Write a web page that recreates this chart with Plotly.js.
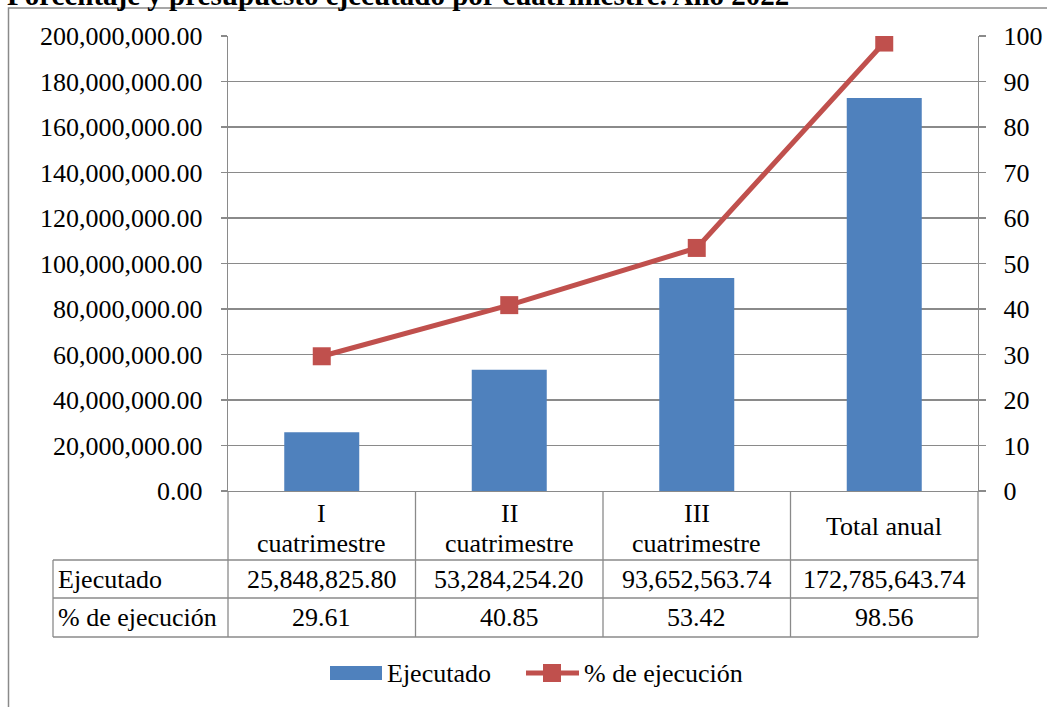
<!DOCTYPE html>
<html>
<head>
<meta charset="utf-8">
<script src="https://cdn.plot.ly/plotly-3.0.1.min.js"></script>
<style>html,body{margin:0;padding:0;background:#fff;}#chart{width:1047px;height:707px;}</style>
</head>
<body>
<div id="chart"></div>
<script>
const categories = ["I cuatrimestre", "II cuatrimestre", "III cuatrimestre", "Total anual"];
const headerLine1 = ["I", "II", "III", ""];
const headerLine2 = ["cuatrimestre", "cuatrimestre", "cuatrimestre", ""];
const headerSingle = ["", "", "", "Total anual"];
const ejecutado = [25848825.80, 53284254.20, 93652563.74, 172785643.74];
const ejecutadoText = ["25,848,825.80", "53,284,254.20", "93,652,563.74", "172,785,643.74"];
const porcentaje = [29.61, 40.85, 53.42, 98.56];
const porcentajeText = ["29.61", "40.85", "53.42", "98.56"];
const rowLabels = ["Ejecutado", "% de ejecución"];
const seriesNames = ["Ejecutado", "% de ejecución"];
const titleText = "Porcentaje y presupuesto ejecutado por cuatrimestre. Año 2022";

const W = 1047, H = 707;
const L = 228, R = 978, T = 36, B = 491;
const xp = px => (px - L) / (R - L);
const yp = py => (B - py) / (B - T);
const FONT = "'Liberation Serif', 'Times New Roman', serif";
const GRAY = "#8a8a8a";
const BLUE = "#4F81BD";
const RED = "#C0504D";

const traces = [
  {type: "bar", x: categories, y: ejecutado, name: seriesNames[0], marker: {color: BLUE}, width: 0.4, yaxis: "y", hoverinfo: "none"},
  {type: "scatter", mode: "lines+markers", x: categories, y: porcentaje, name: seriesNames[1], yaxis: "y2",
   line: {color: RED, width: 5}, marker: {symbol: "square", size: 18, color: RED}, hoverinfo: "none"}
];

const shapes = [];
const annotations = [];
const line = (x0, y0, x1, y1, color, w) => shapes.push({type: "line", xref: "paper", yref: "paper",
  x0: xp(x0), y0: yp(y0), x1: xp(x1), y1: yp(y1), line: {color: color || GRAY, width: w || 1.3}});

// outer border
shapes.push({type: "rect", xref: "paper", yref: "paper", x0: xp(8.5), y0: yp(8), x1: xp(1080), y1: yp(740),
  line: {color: GRAY, width: 1.5}, fillcolor: "rgba(0,0,0,0)"});

// table grid
const colEdges = [228, 415.5, 603, 790.5, 978];
colEdges.forEach(x => line(x, B, x, 637));
line(53, 560, 978, 560);
line(53, 598, 978, 598);
line(53, 637, 978, 637);
line(53, 560, 53, 637);

const txt = (x, xref, py, text, anchor, size) => annotations.push({
  x: x, xref: xref, y: yp(py), yref: "paper", text: text, showarrow: false,
  xanchor: anchor || "center", yanchor: "middle", font: {family: FONT, size: size || 26, color: "#000"}
});

categories.forEach((c, i) => {
  if (headerLine1[i]) txt(c, "x", 513, headerLine1[i]);
  if (headerLine2[i]) txt(c, "x", 543, headerLine2[i]);
  if (headerSingle[i]) txt(c, "x", 526, headerSingle[i]);
  txt(c, "x", 579, ejecutadoText[i]);
  txt(c, "x", 617, porcentajeText[i]);
});
txt(xp(56), "paper", 579, rowLabels[0], "left");
txt(xp(56), "paper", 617, rowLabels[1], "left");

// title (cut off at top, as in the reference)
annotations.push({x: xp(5), xref: "paper", y: yp(-5), yref: "paper", text: "<b>" + titleText + "</b>",
  showarrow: false, xanchor: "left", yanchor: "middle", font: {family: FONT, size: 29, color: "#000"}});

// legend
shapes.push({type: "rect", xref: "paper", yref: "paper", x0: xp(330), x1: xp(382), y0: yp(666), y1: yp(680),
  fillcolor: BLUE, line: {width: 0}});
txt(xp(385), "paper", 673, seriesNames[0], "left");
line(526, 673, 579, 673, RED, 5);
shapes.push({type: "rect", xref: "paper", yref: "paper", x0: xp(543), x1: xp(561), y0: yp(664), y1: yp(682),
  fillcolor: RED, line: {width: 0}});
txt(xp(582), "paper", 673, seriesNames[1], "left");

const layout = {
  width: W, height: H,
  margin: {l: L, r: W - R, t: T, b: H - B, pad: 0},
  paper_bgcolor: "#fff", plot_bgcolor: "#fff",
  showlegend: false,
  font: {family: FONT, size: 26, color: "#000"},
  xaxis: {type: "category", showticklabels: false, showline: true, linecolor: GRAY, linewidth: 1.3,
    showgrid: false, zeroline: false, ticks: "", fixedrange: true},
  yaxis: {range: [0, 200000000], dtick: 20000000, tick0: 0, tickformat: ",.2f", showline: true,
    linecolor: GRAY, linewidth: 1.3, gridcolor: GRAY, gridwidth: 1.3, zeroline: false, ticks: "outside",
    ticklen: 6, tickcolor: GRAY, tickwidth: 1.3, ticklabelstandoff: 13, tickfont: {family: FONT, size: 26, color: "#000"}},
  yaxis2: {range: [0, 100], dtick: 10, tick0: 0, overlaying: "y", side: "right", showline: true,
    linecolor: GRAY, linewidth: 1.3, showgrid: false, zeroline: false, ticks: "outside", ticklen: 7,
    tickcolor: GRAY, tickwidth: 1.3, ticklabelstandoff: 12, tickfont: {family: FONT, size: 26, color: "#000"}},
  shapes: shapes,
  annotations: annotations
};

Plotly.newPlot("chart", traces, layout, {displayModeBar: false, staticPlot: true});
</script>
</body>
</html>
